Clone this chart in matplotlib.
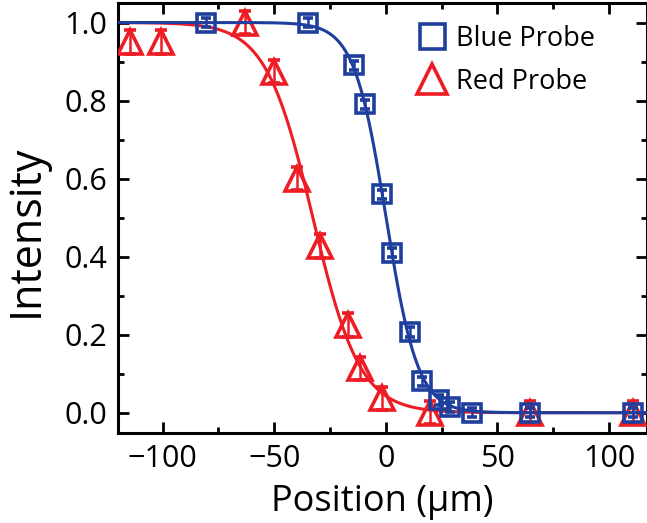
import numpy as np
import matplotlib
matplotlib.use('Agg')
from matplotlib import pyplot as plt
from matplotlib.ticker import MultipleLocator

plt.rcParams['font.family'] = ['Open Sans', 'DejaVu Sans']

# blue probe (squares)
blue_x = [-80.4, -35, -14.3, -9.4, -1.9, 2.6, 10.8, 16, 23.8, 28.7, 38.4, 64.6, 110.8]
blue_y = [1.0, 1.0, 0.89, 0.79, 0.56, 0.41, 0.207, 0.08, 0.033, 0.015, 0.0, 0.0, 0.0]
blue_err = [0.012] * len(blue_x)

# red probe (triangles)
red_x = [-114.8, -100.9, -63.2, -50.2, -39.6, -29.3, -16.9, -11.7, -1.9, 19.7, 64.6, 110.8]
red_y = [0.95, 0.95, 1.0, 0.874, 0.60, 0.427, 0.225, 0.114, 0.037, 0.0, 0.0, 0.0]
red_err = [0.03] * len(red_x)

BLUE = '#1f3f9e'
RED = '#ee1c25'


def boltzmann(x, x0, dx):
    return 1.0 / (1.0 + np.exp((x - x0) / dx))


def fit_boltzmann(x, y):
    # brute force least squares, asymptotes fixed at 1 and 0
    x = np.asarray(x)
    y = np.asarray(y)
    best = None
    for x0 in np.arange(-60, 30, 0.1):
        for dx in np.arange(2, 20, 0.05):
            err = np.sum((boltzmann(x, x0, dx) - y) ** 2)
            if best is None or err < best[0]:
                best = (err, x0, dx)
    return best[1], best[2]


fig = plt.figure(figsize=(6.47, 5.23), dpi=100)
ax = fig.add_axes([118 / 647, 90 / 523, 529 / 647, 430 / 523])

xx = np.linspace(-120, 117, 600)
rx0, rdx = fit_boltzmann(red_x, red_y)
bx0, bdx = fit_boltzmann(blue_x, blue_y)

ax.plot(xx, boltzmann(xx, rx0, rdx), color=RED, lw=2.2, zorder=2)
ax.errorbar(red_x, red_y, yerr=red_err, fmt='^', ms=17, mfc='none', mec=RED, mew=2.6,
            ecolor=RED, elinewidth=1.8, capsize=4.5, capthick=1.8, zorder=3)
ax.plot(xx, boltzmann(xx, bx0, bdx), color=BLUE, lw=2.2, zorder=4)
ax.errorbar(blue_x, blue_y, yerr=blue_err, fmt='s', ms=13, mfc='none', mec=BLUE, mew=2.6,
            ecolor=BLUE, elinewidth=1.8, capsize=3.5, capthick=1.8, zorder=5)

# legend handles
hb, = ax.plot([], [], 's', ms=18, mfc='none', mec=BLUE, mew=2.6, label='Blue Probe')
hr, = ax.plot([], [], '^', ms=21, mfc='none', mec=RED, mew=2.6, label='Red Probe')
ax.legend(handles=[hb, hr], loc='upper left', bbox_to_anchor=(0.527, 1.0), frameon=False,
          fontsize=19.5, handlelength=1.0, handletextpad=0.4, labelspacing=0.55, borderpad=0.3)

ax.set_xlim(-120, 117)
ax.set_ylim(-0.052, 1.05)
ax.xaxis.set_major_locator(MultipleLocator(50))
ax.xaxis.set_minor_locator(MultipleLocator(25))
ax.yaxis.set_major_locator(MultipleLocator(0.2))
ax.yaxis.set_minor_locator(MultipleLocator(0.1))
ax.yaxis.set_major_formatter(plt.FormatStrFormatter('%.1f'))
ax.tick_params(which='both', direction='in', top=True, right=True, width=2, labelsize=22, pad=8)
ax.tick_params(which='major', length=8)
ax.tick_params(which='minor', length=4)
for s in ax.spines.values():
    s.set_linewidth(2.2)

ax.set_xlabel('Position (μm)', fontsize=26, labelpad=7)
ax.set_ylabel('Intensity', fontsize=31)
ax.yaxis.set_label_coords(-0.13, 0.47)

plt.savefig('out.png', dpi=100)
plt.close()
